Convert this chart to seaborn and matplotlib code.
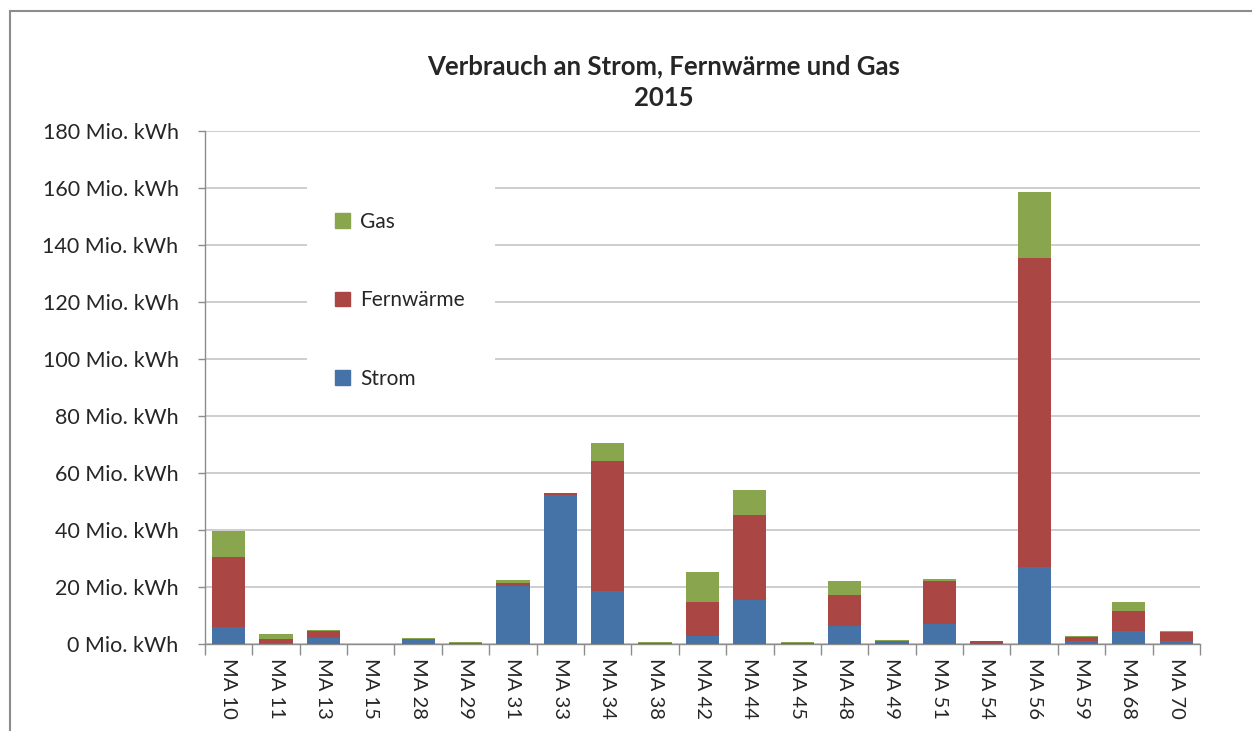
import numpy as np
import pandas as pd
import matplotlib
matplotlib.use("Agg")
import matplotlib.pyplot as plt
import matplotlib.patches as mpatches
import seaborn as sns

# Verbrauch 2015 je Magistratsabteilung (Mio. kWh)
abteilungen = ["MA 10", "MA 11", "MA 13", "MA 15", "MA 28", "MA 29", "MA 31",
               "MA 33", "MA 34", "MA 38", "MA 42", "MA 44", "MA 45", "MA 48",
               "MA 49", "MA 51", "MA 54", "MA 56", "MA 59", "MA 68", "MA 70"]
strom = [6.1, 0.4, 2.0, 0.0, 1.6, 0.4, 20.5, 52.2, 18.5, 0.3, 2.8, 15.5, 0.3,
         6.4, 1.0, 7.0, 0.1, 26.9, 1.0, 4.4, 1.0]
fernwaerme = [24.5, 1.2, 2.7, 0.0, 0.3, 0.0, 1.0, 0.8, 45.7, 0.1, 12.0, 29.6,
              0.1, 10.8, 0.1, 15.2, 0.9, 108.5, 1.5, 7.2, 3.3]
gas = [9.1, 1.8, 0.3, 0.0, 0.3, 0.3, 1.1, 0.0, 6.3, 0.3, 10.5, 9.0, 0.3, 4.8,
       0.3, 0.6, 0.1, 23.2, 0.3, 3.0, 0.3]

df = pd.DataFrame({"MA": abteilungen, "Strom": strom,
                   "Fernwärme": fernwaerme, "Gas": gas})
df["bis_fern"] = df["Strom"] + df["Fernwärme"]
df["gesamt"] = df["bis_fern"] + df["Gas"]

c_strom = "#4572A7"
c_fern = "#AA4643"
c_gas = "#89A54E"

sns.set_theme(style="white")
plt.rcParams["font.family"] = ["Lato", "DejaVu Sans"]

fig = plt.figure(figsize=(12.52, 7.31), dpi=100)
ax = fig.add_axes([0.1637, 0.119, 0.7947, 0.7018])

# stacked bars drawn back to front
for col, c in [("gesamt", c_gas), ("bis_fern", c_fern), ("Strom", c_strom)]:
    sns.barplot(data=df, x="MA", y=col, color=c, saturation=1, width=0.7,
                linewidth=0, ax=ax, zorder=3)

ax.set_ylim(0, 180)
ax.set_xlim(-0.5, len(abteilungen) - 0.5)
ax.set_yticks(range(0, 181, 20))
ax.set_yticklabels([f"{v} Mio. kWh" for v in range(0, 181, 20)], fontsize=15.5)
ax.yaxis.grid(True, color="#C6C6C6", linewidth=1.2, zorder=0)
ax.set_axisbelow(True)
ax.set_xlabel("")
ax.set_ylabel("")

ax.set_xticks(range(len(abteilungen)))
ax.set_xticklabels(abteilungen, rotation=270, fontsize=14.5)
ax.set_xticks(np.arange(-0.5, len(abteilungen), 1), minor=True)
ax.tick_params(axis="x", which="major", length=0, pad=10)
ax.tick_params(axis="x", which="minor", length=8, color="#8C8C8C", width=1,
               bottom=True)
ax.tick_params(axis="y", length=5, color="#8C8C8C", width=1, left=True, pad=14)

for s in ["top", "right"]:
    ax.spines[s].set_visible(False)
for s in ["left", "bottom"]:
    ax.spines[s].set_color("#8C8C8C")
    ax.spines[s].set_linewidth(1)

# white legend area that hides the gridlines
ax.add_patch(mpatches.Rectangle((0.1025, 0.475), 0.189, 0.435,
                                transform=ax.transAxes, facecolor="white",
                                edgecolor="none", zorder=2))

handles = [mpatches.Patch(color=c_gas, label="Gas"),
           mpatches.Patch(color=c_fern, label="Fernwärme"),
           mpatches.Patch(color=c_strom, label="Strom")]
leg = ax.legend(handles=handles, loc="upper left",
                bbox_to_anchor=(0.131, 0.842), fontsize=15, frameon=False,
                labelspacing=2.8, handlelength=0.7, handleheight=0.7,
                handletextpad=0.5, borderpad=0, borderaxespad=0)
leg.set_zorder(5)

fig.text(0.53, 0.888, "Verbrauch an Strom, Fernwärme und Gas\n2015",
         ha="center", va="center", fontsize=18.5, fontweight="bold",
         linespacing=1.4)

# outer chart border
fig.patches.append(mpatches.Rectangle((10 / 1252, -0.1), 1.2, (731 - 11) / 731 + 0.1,
                                      transform=fig.transFigure, fill=False,
                                      edgecolor="#8C8C8C", linewidth=1.5))

fig.savefig("out.png", dpi=100, facecolor="white")
